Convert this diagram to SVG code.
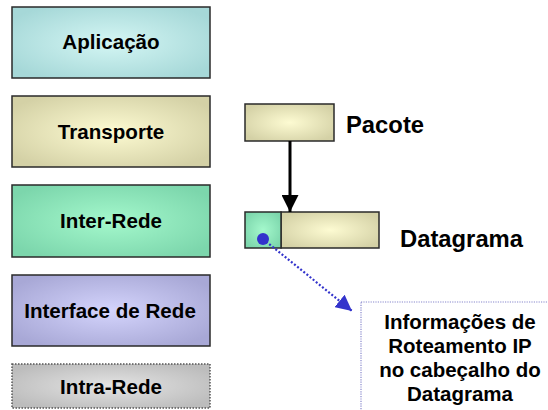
<svg xmlns="http://www.w3.org/2000/svg" width="548" height="410" viewBox="0 0 548 410">
  <defs>
    <radialGradient id="gCyan" cx="0.5" cy="0.5" r="0.6">
      <stop offset="0" stop-color="#d4f6f4"/>
      <stop offset="1" stop-color="#a6d8d8"/>
    </radialGradient>
    <radialGradient id="gSand" cx="0.5" cy="0.5" r="0.6">
      <stop offset="0" stop-color="#fdfbd2"/>
      <stop offset="1" stop-color="#d4d1a6"/>
    </radialGradient>
    <radialGradient id="gGreen" cx="0.5" cy="0.5" r="0.6">
      <stop offset="0" stop-color="#a4f8cc"/>
      <stop offset="1" stop-color="#7cd6ac"/>
    </radialGradient>
    <radialGradient id="gViolet" cx="0.5" cy="0.5" r="0.6">
      <stop offset="0" stop-color="#d4d4fc"/>
      <stop offset="1" stop-color="#a8a8d6"/>
    </radialGradient>
    <radialGradient id="gGray" cx="0.5" cy="0.5" r="0.6">
      <stop offset="0" stop-color="#e4e4e4"/>
      <stop offset="1" stop-color="#bcbcbc"/>
    </radialGradient>
    <marker id="arrowBlack" viewBox="0 0 10 10" refX="10" refY="5" markerUnits="userSpaceOnUse" markerWidth="17" markerHeight="17" orient="auto">
      <path d="M0,0 L10,5 L0,10 Z" fill="#000"/>
    </marker>
    <marker id="arrowBlue" viewBox="0 0 10 10" refX="10" refY="5" markerUnits="userSpaceOnUse" markerWidth="16" markerHeight="16" orient="auto">
      <path d="M0,0 L10,5 L0,10 Z" fill="#3333cc"/>
    </marker>
  </defs>
  <style>
    .layer { stroke: #2a2a2a; stroke-width: 1.5; }
    .lbl { font-family: "Liberation Sans", Arial, sans-serif; font-weight: bold; fill: #000; text-anchor: middle; }
    .layerTxt { font-size: 20.6px; }
    .bigTxt { font-size: 23.8px; text-anchor: start; }
    .noteTxt { font-size: 20.5px; }
  </style>

  <!-- Protocol layers -->
  <g id="aplicacao">
    <rect class="layer" x="12" y="7" width="198" height="71" fill="url(#gCyan)"/>
    <text class="lbl layerTxt" x="111" y="49">Aplicação</text>
  </g>
  <g id="transporte">
    <rect class="layer" x="12" y="96" width="198" height="71" fill="url(#gSand)"/>
    <text class="lbl layerTxt" x="111" y="139">Transporte</text>
  </g>
  <g id="inter-rede">
    <rect class="layer" x="12" y="185" width="198" height="72" fill="url(#gGreen)"/>
    <text class="lbl layerTxt" x="111" y="228">Inter-Rede</text>
  </g>
  <g id="interface-rede">
    <rect class="layer" x="12" y="275" width="198" height="71" fill="url(#gViolet)"/>
    <text class="lbl layerTxt" x="110" y="318">Interface de Rede</text>
  </g>
  <g id="intra-rede">
    <rect x="12" y="364" width="198" height="44" fill="url(#gGray)" stroke="#555" stroke-width="1.5" stroke-dasharray="1.5 1.5"/>
    <text class="lbl layerTxt" x="111" y="394">Intra-Rede</text>
  </g>

  <!-- Packet -->
  <g id="pacote">
    <rect class="layer" x="245" y="104" width="89" height="37" fill="url(#gSand)"/>
    <text class="lbl bigTxt" x="346" y="133">Pacote</text>
  </g>

  <!-- Datagram: IP header + payload -->
  <g id="datagrama">
    <rect class="layer" x="281" y="212" width="98" height="36" fill="url(#gSand)"/>
    <rect class="layer" x="245" y="212" width="36" height="36" fill="url(#gGreen)"/>
    <circle cx="263" cy="239" r="6" fill="#3333cc"/>
    <text class="lbl bigTxt" x="400" y="247">Datagrama</text>
  </g>

  <!-- Header note -->
  <g id="info-ip">
    <rect x="361" y="302" width="200" height="120" fill="#fff" stroke="#8888cc" stroke-width="1.2" stroke-dasharray="1.2 1.2"/>
    <text class="lbl noteTxt" x="460" y="329">Informações de</text>
    <text class="lbl noteTxt" x="460" y="353">Roteamento IP</text>
    <text class="lbl noteTxt" x="460" y="377">no cabeçalho do</text>
    <text class="lbl noteTxt" x="460" y="401">Datagrama</text>
  </g>

  <!-- Connectors -->
  <g id="connectors">
    <line x1="290" y1="141" x2="290" y2="212" stroke="#000" stroke-width="3" marker-end="url(#arrowBlack)"/>
    <line x1="263" y1="239" x2="352" y2="311" stroke="#3333cc" stroke-width="2.2" stroke-dasharray="2 2" marker-end="url(#arrowBlue)"/>
  </g>
</svg>
